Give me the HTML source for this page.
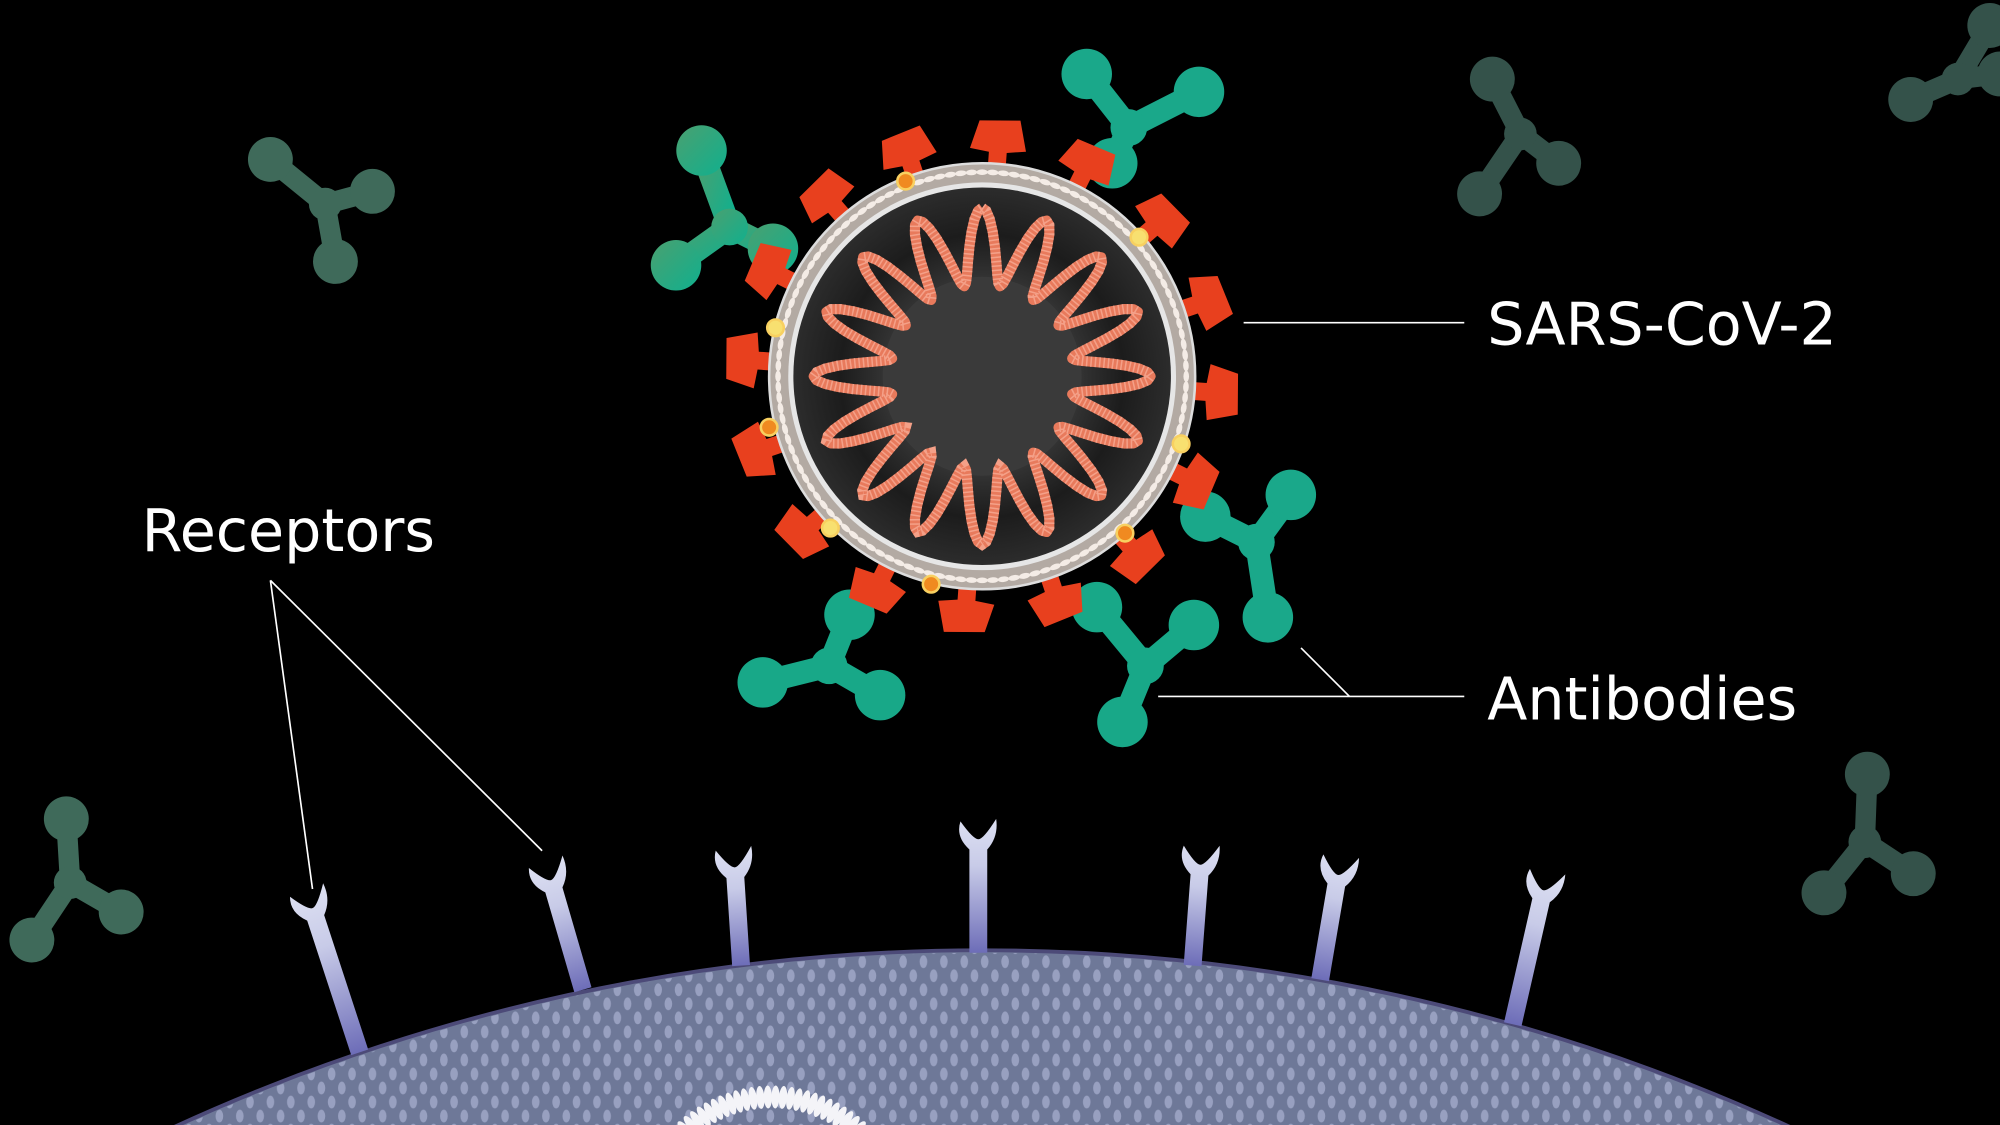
<!DOCTYPE html>
<html><head><meta charset="utf-8"><style>
html,body{margin:0;padding:0;background:#000;width:2000px;height:1125px;overflow:hidden}
svg{display:block}
text{font-family:"DejaVu Sans","Liberation Sans",sans-serif;fill:#fff}
</style></head><body>
<svg id="s" width="2000" height="1125" viewBox="0 0 1568 882" xmlns="http://www.w3.org/2000/svg" style="position:absolute;left:0;top:0">
<defs>
<clipPath id="clipAll"><rect width="1568" height="882"/></clipPath>
<pattern id="dots" width="16" height="22" patternUnits="userSpaceOnUse">
<ellipse cx="4" cy="6" rx="3" ry="5" fill="#98a0c0"/>
<ellipse cx="12" cy="17" rx="3" ry="5" fill="#98a0c0"/>
</pattern>
<radialGradient id="core" cx="0.5" cy="0.5" r="0.5">
<stop offset="0.45" stop-color="#3a3a3a"/><stop offset="0.75" stop-color="#1c1c1c"/><stop offset="1" stop-color="#2c2c2c"/>
</radialGradient>
<linearGradient id="rec" x1="0" y1="0" x2="0" y2="1">
<stop offset="0" stop-color="#dde0f2"/><stop offset="0.35" stop-color="#c8cbe8"/><stop offset="1" stop-color="#6d6db8"/>
</linearGradient>
<linearGradient id="abB" x1="0" y1="0" x2="1" y2="1"><stop offset="0" stop-color="#4aa070"/><stop offset="1" stop-color="#10b08e"/></linearGradient>
</defs>
<g clip-path="url(#clipAll)">
<rect width="1568" height="882" fill="#000"/>

<circle cx="770" cy="2262" r="1517" fill="#6e7898" stroke="#4c4a78" stroke-width="3"/>
<circle cx="770" cy="2262" r="1515" fill="url(#dots)"/>
<g id="innerRing"></g>
<g id="receptors"></g>

<g stroke="#fff" stroke-width="1.3" fill="none">
<line x1="975" y1="253" x2="1148" y2="253"/>
<polyline points="908,546 1148,546"/>
<polyline points="1020,508 1058,546"/>
<line x1="212" y1="455" x2="245" y2="697"/>
<line x1="212" y1="455" x2="425" y2="667"/>
</g>

<g id="abs"></g>

<g id="spikes"></g>
<circle cx="770" cy="295" r="167" fill="#b3aaa3" stroke="#ddd" stroke-width="2"/>
<g id="beads"></g>
<circle cx="770" cy="295" r="152" fill="#e6e6e6"/>
<circle cx="770" cy="295" r="148" fill="url(#core)"/>
<circle cx="770" cy="295" r="78" fill="#3a3a3a"/>
<path id="rna" fill="none" stroke="#e87a5c" stroke-width="8" stroke-linejoin="round"/>
<path id="rna2" fill="none" stroke="#f4a088" stroke-width="8" stroke-dasharray="1.2 2.2"/>
<g id="dotsV"></g>

<text x="1166" y="270" font-size="46">SARS-CoV-2</text>
<text x="1166" y="564" font-size="46">Antibodies</text>
<text x="111" y="432" font-size="46">Receptors</text>
</g>
</svg>
<script>
var NS="http://www.w3.org/2000/svg";
function el(p,t,a){var e=document.createElementNS(NS,t);for(var k in a)e.setAttribute(k,a[k]);document.getElementById(p).appendChild(e);return e;}
var cx=770,cy=295;
for(var i=0;i<120;i++){var a=i/120*2*Math.PI;var r=160;
el("beads","ellipse",{cx:cx+r*Math.cos(a),cy:cy+r*Math.sin(a),rx:2.2,ry:4.5,fill:"#f4ece6",transform:"rotate("+(a*180/Math.PI)+" "+(cx+r*Math.cos(a))+" "+(cy+r*Math.sin(a))+")"});}
var d="",N=16,S=N*2*8;
for(var i=0;i<=S;i++){var t=i/S;var a=t*2*Math.PI-Math.PI/2;
var w=Math.cos(t*N*2*Math.PI);var r=102+30*w;
d+=(i?"L":"M")+(cx+r*Math.cos(a)).toFixed(1)+" "+(cy+r*Math.sin(a)).toFixed(1);}
document.getElementById("rna").setAttribute("d",d);document.getElementById("rna2").setAttribute("d",d);
for(var i=0;i<16;i++){var a=i*22.5-90+4;
var g=el("spikes","g",{transform:"translate("+cx+" "+cy+") rotate("+a+")"});
var p=document.createElementNS(NS,"path");
p.setAttribute("d","M160 -7 L176 -7 L178 -22 L200 -16 L202 16 L178 22 L176 7 L160 7 Z");
p.setAttribute("fill","#e8401e");g.appendChild(p);}
[[710,142,"#f08a20"],[893,186,"#f8e070"],[608,257,"#f8e070"],[603,335,"#f08a20"],[926,348,"#f8e070"],[651,414,"#f8e070"],[882,418,"#f08a20"],[730,458,"#f08a20"]].forEach(function(q){
el("dotsV","circle",{cx:q[0],cy:q[1],r:6.5,fill:q[2],stroke:"#f8d060","stroke-width":2});});
function ab(c,arms,col,w){arms.forEach(function(e){
el("abs","line",{x1:c[0],y1:c[1],x2:e[0],y2:e[1],stroke:col,"stroke-width":w,"stroke-linecap":"round"});
el("abs","circle",{cx:e[0],cy:e[1],r:w*1.1,fill:col});});
el("abs","circle",{cx:c[0],cy:c[1],r:w*0.8,fill:col});}
var dim="#3f6a5a";
ab([255,160],[[212,125],[292,150],[263,205]],dim,16);
ab([885,100],[[852,58],[940,72],[872,128]],"#1aa88a",18);
ab([572,178],[[550,118],[530,208],[606,195]],"url(#abB)",18);
ab([985,425],[[1012,388],[994,484],[945,405]],"#1aa88a",18);
ab([650,522],[[598,535],[690,545],[666,482]],"#18a888",18);
ab([898,522],[[936,490],[880,566],[860,476]],"#18a888",18);
ab([1192,105],[[1170,62],[1222,128],[1160,152]],"#34524a",16);
ab([1535,62],[[1560,20],[1498,78],[1568,58]],"#34524a",16);
ab([55,692],[[52,642],[25,737],[95,715]],dim,16);
ab([1462,660],[[1464,607],[1430,700],[1500,685]],"#34524a",16);
[[245,712,282,825],[432,690,457,776],[576,680,581,757],[767,658,767,747],[941,678,935,757],[1049,686,1035,768],[1210,698,1186,803]].forEach(function(r){
var ang=Math.atan2(r[2]-r[0],r[3]-r[1])*180/Math.PI;var L=Math.hypot(r[2]-r[0],r[3]-r[1]);
var g=el("receptors","g",{transform:"translate("+r[0]+" "+r[1]+") rotate("+(-ang)+")"});
var p=document.createElementNS(NS,"path");
p.setAttribute("d","M-7 8 L-7 "+L+" L7 "+L+" L7 8 Q16 -2 14 -16 Q4 0 0 0 Q-4 0 -14 -14 Q-18 -2 -7 8 Z");
p.setAttribute("fill","url(#rec)");g.appendChild(p);});
for(var i=0;i<44;i++){var a=Math.PI+0.3+i/43*(Math.PI-0.6);var r=100;var x=605+r*Math.cos(a),y=960+r*Math.sin(a);
el("innerRing","ellipse",{cx:x,cy:y,rx:3.2,ry:9,fill:"#f4f4f8",transform:"rotate("+(a*180/Math.PI+90)+" "+x+" "+y+")"});}
</script>
</body></html>
